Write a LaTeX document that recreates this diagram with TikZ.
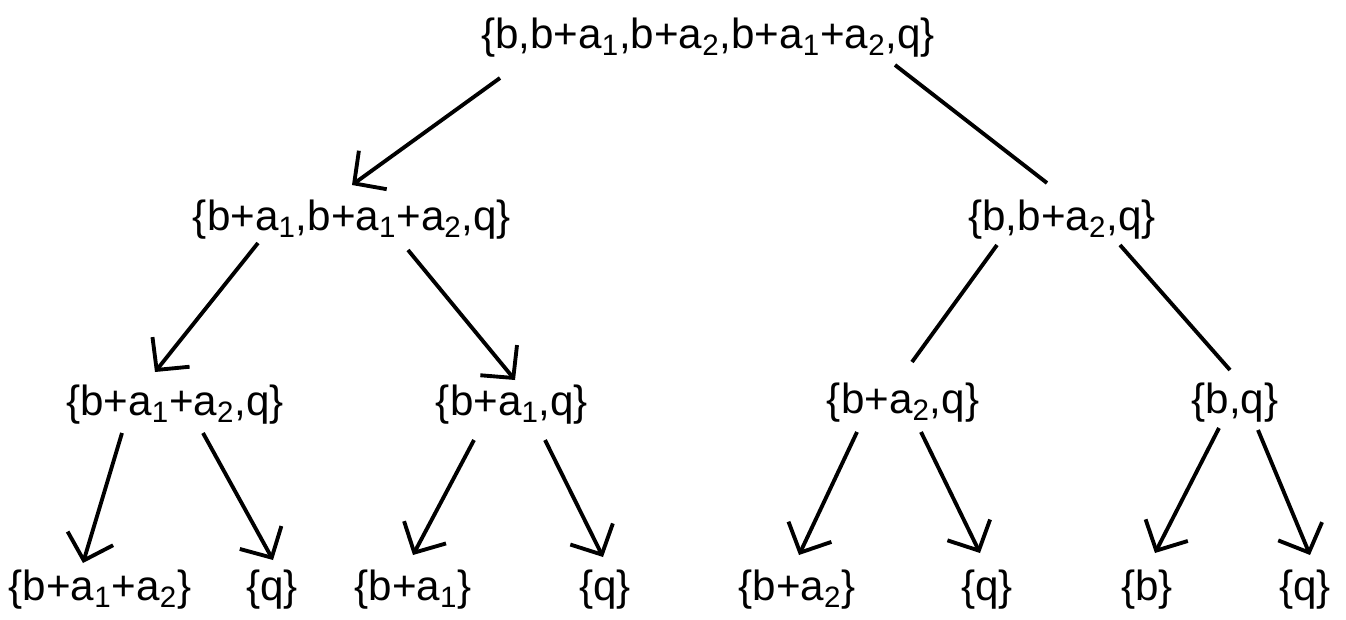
\documentclass[tikz,border=0pt]{standalone}
\usepackage{fontspec}
\setmainfont{Liberation Sans}
\usepackage{tikz}
\usetikzlibrary{arrows.meta,calc}

\begin{document}
\begin{tikzpicture}[
  x=0.02cm, y=-0.02cm,
  set/.style={font=\fontsize{24}{28}\selectfont,inner sep=0pt},
  arr/.style={line width=2.2pt,-{Straight Barb[length=0.46cm,width=0.95cm,line width=2.2pt]}},
  plain/.style={line width=2.2pt}
]
  \useasboundingbox (0,0) rectangle (1346,619);

  % --- root and second level ---
  \node[set] (root) at (708,38)  {\{b,b+a\textsubscript{1},b+a\textsubscript{2},b+a\textsubscript{1}+a\textsubscript{2},q\}};
  \node[set] (L)    at (352,220) {\{b+a\textsubscript{1},b+a\textsubscript{1}+a\textsubscript{2},q\}};
  \node[set] (R)    at (1062,220) {\{b,b+a\textsubscript{2},q\}};
  \draw[arr]   ($(root)+(-208,40)$) -- ($(L)+(0,-35)$);
  \draw[plain] ($(root)+(187,27)$)  -- ($(R)+(-15,-37)$);

  % --- third level ---
  \node[set] (LL) at (175,405)  {\{b+a\textsubscript{1}+a\textsubscript{2},q\}};
  \node[set] (LR) at (512,405)  {\{b+a\textsubscript{1},q\}};
  \node[set] (RL) at (903,403)  {\{b+a\textsubscript{2},q\}};
  \node[set] (RR) at (1235,403) {\{b,q\}};
  \draw[arr]   ($(L)+(-94,23)$) -- ($(LL)+(-20,-33)$);
  \draw[arr]   ($(L)+(56,30)$)  -- ($(LR)+(3,-25)$);
  \draw[plain] ($(R)+(-65,25)$) -- ($(RL)+(9,-41)$);
  \draw[plain] ($(R)+(58,25)$)  -- ($(RR)+(-5,-33)$);

  % --- leaves ---
  \node[set] (lf1) at (100,590)  {\{b+a\textsubscript{1}+a\textsubscript{2}\}};
  \node[set] (lf2) at (272,590)  {\{q\}};
  \node[set] (lf3) at (413,590)  {\{b+a\textsubscript{1}\}};
  \node[set] (lf4) at (605,590)  {\{q\}};
  \node[set] (lf5) at (797,590)  {\{b+a\textsubscript{2}\}};
  \node[set] (lf6) at (987,590)  {\{q\}};
  \node[set] (lf7) at (1147,590) {\{b\}};
  \node[set] (lf8) at (1305,590) {\{q\}};
  \draw[arr] ($(LL)+(-53,28)$) -- ($(lf1)+(-17,-27)$);
  \draw[arr] ($(LL)+(28,28)$)  -- ($(lf2)+(1,-30)$);
  \draw[arr] ($(LR)+(-38,35)$) -- ($(lf3)+(0,-35)$);
  \draw[arr] ($(LR)+(33,35)$)  -- ($(lf4)+(-2,-33)$);
  \draw[arr] ($(RL)+(-46,29)$) -- ($(lf5)+(2,-35)$);
  \draw[arr] ($(RL)+(18,29)$)  -- ($(lf6)+(-7,-37)$);
  \draw[arr] ($(RR)+(-16,25)$) -- ($(lf7)+(8,-37)$);
  \draw[arr] ($(RR)+(23,27)$)  -- ($(lf8)+(5,-35)$);
\end{tikzpicture}
\end{document}
